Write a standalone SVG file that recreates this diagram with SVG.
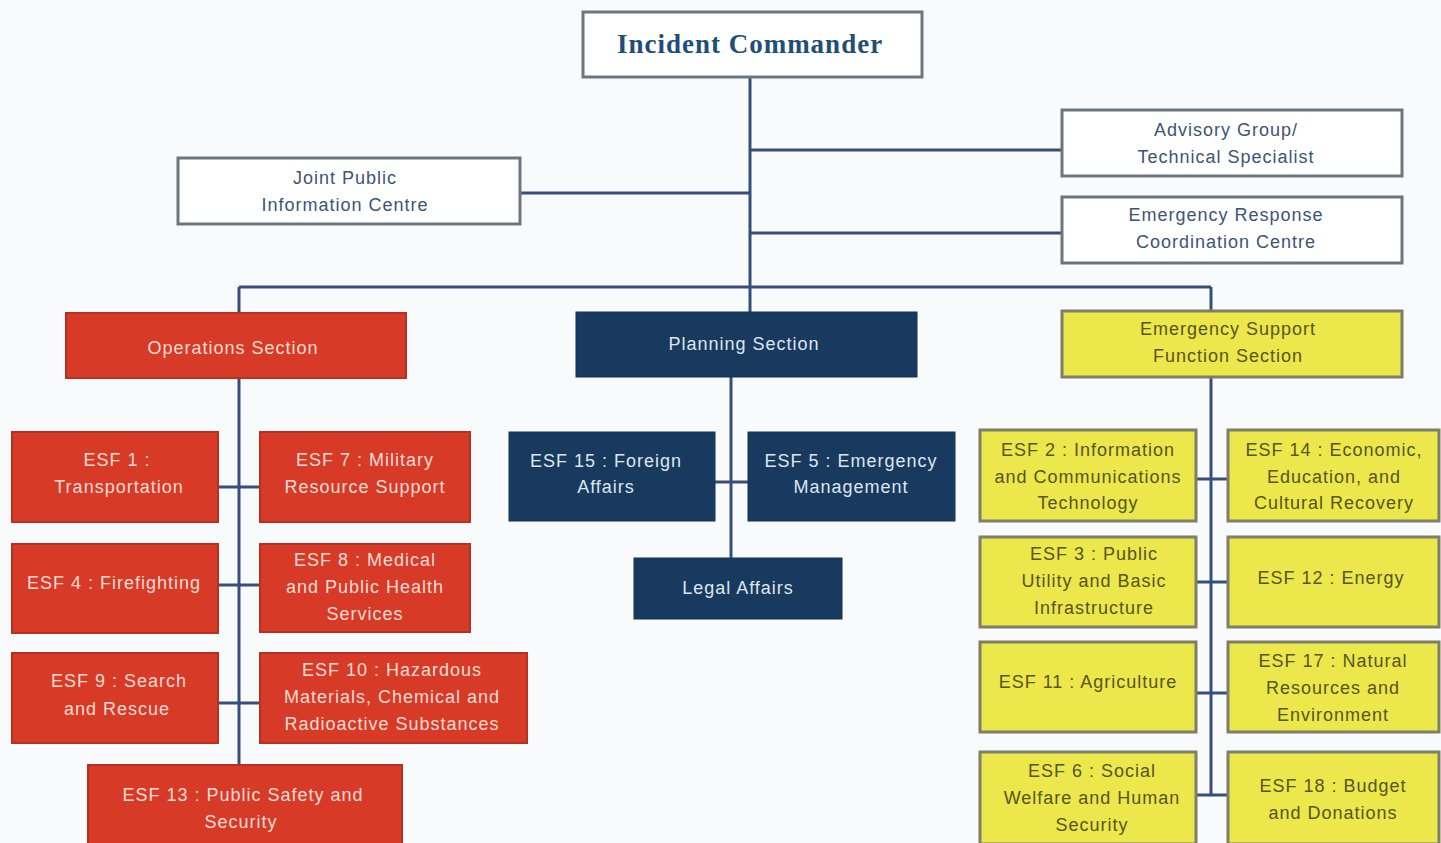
<svg xmlns="http://www.w3.org/2000/svg" width="1441" height="843" viewBox="0 0 1441 843">
<style>
.bg{fill:#f9fafb}
.w{fill:#ffffff;stroke:#6d767f;stroke-width:3}
.r{fill:#d73a27;stroke:#b8301f;stroke-width:2}
.n{fill:#173a5e;stroke:#143252;stroke-width:1}
.y{fill:#ece74b;stroke:#7e7f68;stroke-width:3}
text{font-family:"Liberation Sans",Arial,sans-serif;font-size:18px;letter-spacing:1px;text-anchor:middle}
.tw{fill:#3d5475}
.tr{fill:#f7dcd2}
.tn{fill:#dfe5ee}
.ty{fill:#56561f}
.title{font-family:"Liberation Serif","Times New Roman",serif;font-weight:bold;font-size:27px;fill:#1f4e79}
.c{fill:none;stroke:#34507a;stroke-width:3}
</style>
<rect class="bg" x="0" y="0" width="1441" height="843"/>
<g id="connectors">
<path class="c" d="M750 77 V312"/>
<path class="c" d="M750 150 H1062"/>
<path class="c" d="M520 193 H750"/>
<path class="c" d="M750 233 H1062"/>
<path class="c" d="M239 287 H1211"/>
<path class="c" d="M239 287 V313"/>
<path class="c" d="M1211 287 V311"/>
<path class="c" d="M239 378 V765"/>
<path class="c" d="M218 487 H260"/>
<path class="c" d="M218 585 H260"/>
<path class="c" d="M218 703 H260"/>
<path class="c" d="M731 377 V558"/>
<path class="c" d="M715 482 H748"/>
<path class="c" d="M1211 377 V795"/>
<path class="c" d="M1196 479 H1228"/>
<path class="c" d="M1196 582 H1228"/>
<path class="c" d="M1196 693 H1228"/>
<path class="c" d="M1196 795 H1228"/>
</g>
<g id="incident-commander"><rect class="w" x="583" y="12" width="339" height="65"/><text class="title" x="750" y="53">Incident Commander</text></g>
<g id="jpic"><rect class="w" x="178" y="158" width="342" height="66"/><text class="tw" x="345" y="184">Joint Public</text><text class="tw" x="345" y="211">Information Centre</text></g>
<g id="advisory"><rect class="w" x="1062" y="110" width="340" height="66"/><text class="tw" x="1226" y="136">Advisory Group/</text><text class="tw" x="1226" y="163">Technical Specialist</text></g>
<g id="ercc"><rect class="w" x="1062" y="197" width="340" height="66"/><text class="tw" x="1226" y="221">Emergency Response</text><text class="tw" x="1226" y="248">Coordination Centre</text></g>
<g id="operations"><rect class="r" x="66" y="313" width="340" height="65"/><text class="tr" x="233" y="354">Operations Section</text></g>
<g id="planning"><rect class="n" x="576" y="312" width="341" height="65"/><text class="tn" x="744" y="350">Planning Section</text></g>
<g id="esf-section"><rect class="y" x="1062" y="311" width="340" height="66"/><text class="ty" x="1228" y="335">Emergency Support</text><text class="ty" x="1228" y="362">Function Section</text></g>
<g id="esf1"><rect class="r" x="12" y="432" width="206" height="90"/><text class="tr" x="117" y="466">ESF 1 :</text><text class="tr" x="119" y="493">Transportation</text></g>
<g id="esf7"><rect class="r" x="260" y="432" width="210" height="90"/><text class="tr" x="365" y="466">ESF 7 : Military</text><text class="tr" x="365" y="493">Resource Support</text></g>
<g id="esf4"><rect class="r" x="12" y="544" width="206" height="89"/><text class="tr" x="114" y="589">ESF 4 : Firefighting</text></g>
<g id="esf8"><rect class="r" x="260" y="544" width="210" height="88"/><text class="tr" x="365" y="566">ESF 8 : Medical</text><text class="tr" x="365" y="593">and Public Health</text><text class="tr" x="365" y="620">Services</text></g>
<g id="esf9"><rect class="r" x="12" y="653" width="206" height="90"/><text class="tr" x="119" y="687">ESF 9 : Search</text><text class="tr" x="117" y="715">and Rescue</text></g>
<g id="esf10"><rect class="r" x="260" y="653" width="267" height="90"/><text class="tr" x="392" y="676">ESF 10 : Hazardous</text><text class="tr" x="392" y="703">Materials, Chemical and</text><text class="tr" x="392" y="730">Radioactive Substances</text></g>
<g id="esf13"><rect class="r" x="88" y="765" width="314" height="90"/><text class="tr" x="243" y="801">ESF 13 : Public Safety and</text><text class="tr" x="241" y="828">Security</text></g>
<g id="esf15"><rect class="n" x="509" y="432" width="206" height="89"/><text class="tn" x="606" y="467">ESF 15 : Foreign</text><text class="tn" x="606" y="493">Affairs</text></g>
<g id="esf5"><rect class="n" x="748" y="432" width="207" height="89"/><text class="tn" x="851" y="467">ESF 5 : Emergency</text><text class="tn" x="851" y="493">Management</text></g>
<g id="legal"><rect class="n" x="634" y="558" width="208" height="61"/><text class="tn" x="738" y="594">Legal Affairs</text></g>
<g id="esf2"><rect class="y" x="980" y="430" width="216" height="91"/><text class="ty" x="1088" y="456">ESF 2 : Information</text><text class="ty" x="1088" y="483">and Communications</text><text class="ty" x="1088" y="509">Technology</text></g>
<g id="esf14"><rect class="y" x="1228" y="430" width="211" height="91"/><text class="ty" x="1334" y="456">ESF 14 : Economic,</text><text class="ty" x="1334" y="483">Education, and</text><text class="ty" x="1334" y="509">Cultural Recovery</text></g>
<g id="esf3"><rect class="y" x="980" y="537" width="216" height="90"/><text class="ty" x="1094" y="560">ESF 3 : Public</text><text class="ty" x="1094" y="587">Utility and Basic</text><text class="ty" x="1094" y="614">Infrastructure</text></g>
<g id="esf12"><rect class="y" x="1228" y="537" width="211" height="90"/><text class="ty" x="1331" y="584">ESF 12 : Energy</text></g>
<g id="esf11"><rect class="y" x="980" y="642" width="216" height="90"/><text class="ty" x="1088" y="688">ESF 11 : Agriculture</text></g>
<g id="esf17"><rect class="y" x="1228" y="642" width="211" height="90"/><text class="ty" x="1333" y="667">ESF 17 : Natural</text><text class="ty" x="1333" y="694">Resources and</text><text class="ty" x="1333" y="721">Environment</text></g>
<g id="esf6"><rect class="y" x="980" y="752" width="216" height="92"/><text class="ty" x="1092" y="777">ESF 6 : Social</text><text class="ty" x="1092" y="804">Welfare and Human</text><text class="ty" x="1092" y="831">Security</text></g>
<g id="esf18"><rect class="y" x="1228" y="752" width="211" height="92"/><text class="ty" x="1333" y="792">ESF 18 : Budget</text><text class="ty" x="1333" y="819">and Donations</text></g>
</svg>
